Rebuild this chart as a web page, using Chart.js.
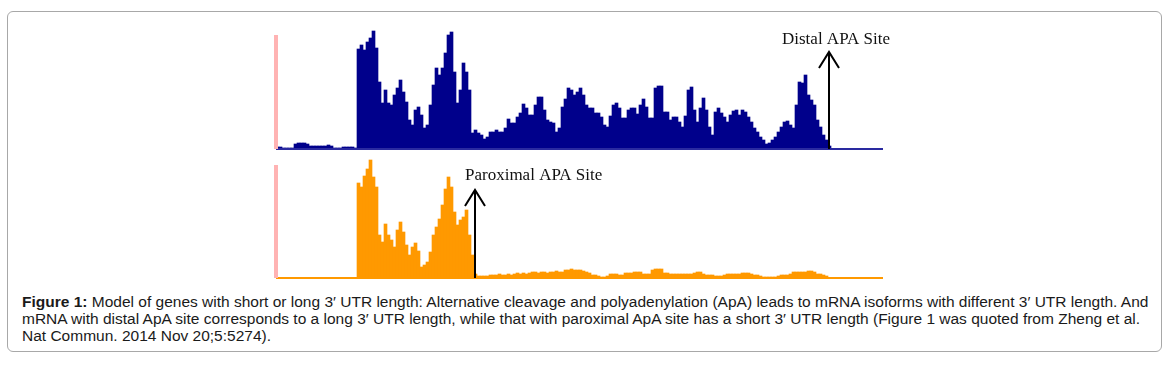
<!DOCTYPE html>
<html lang="en">
<head>
<meta charset="UTF-8" />
<title>Figure 1 - 3' UTR length</title>
<style>
  body { margin: 0; background: #fff; width: 1175px; height: 365px; position: relative; overflow: hidden; }
  .frame { position: absolute; left: 7px; top: 11px; width: 1153px; height: 339px; border: 1px solid #a8a8a8; border-radius: 6px; }
  .track { position: absolute; left: 266px; width: 630px; height: 135px; }
  #topTrack { top: 20px; }
  #bottomTrack { top: 149px; }
  .caption { position: absolute; left: 22px; top: 293px; white-space: nowrap; font: 15.5px "Liberation Sans", Arial, sans-serif; line-height: 17px; color: #1a1a1a; }
</style>
</head>
<body>
<div class="frame"></div>
<div class="track" id="topTrack"><canvas id="distalChart"></canvas></div>
<div class="track" id="bottomTrack"><canvas id="proximalChart"></canvas></div>
<div class="caption">
  <b>Figure 1:</b> Model of genes with short or long 3′ UTR length: Alternative cleavage and polyadenylation (ApA) leads to mRNA isoforms with different 3′ UTR length. And<br>
  mRNA with distal ApA site corresponds to a long 3′ UTR length, while that with paroximal ApA site has a short 3′ UTR length (Figure 1 was quoted from Zheng et al.<br>
  Nat Commun. 2014 Nov 20;5:5274).
</div>

<script src="https://cdn.jsdelivr.net/npm/chart.js"></script>
<script>
  // read coverage per bin (arbitrary read depth), 202 bins along the gene
  const distalCoverage = [
    2, 2, 1, 1, 1, 1, 5, 6, 6, 6, 5, 3, 3, 3, 3, 3, 3, 4, 3, 1, 1, 1, 2, 2, 2, 2, 1,
    100, 104, 99, 107, 111, 118, 101, 67, 46, 59, 46, 44, 54, 61, 69, 57, 47, 29, 24, 39,
    42, 34, 21, 24, 44, 64, 81, 74, 81, 96, 114, 117, 77, 46, 59, 86, 77, 59, 16, 19,
    16, 14, 10, 12, 17, 17, 19, 17, 17, 21, 30, 26, 26, 32, 36, 45, 41, 34, 34, 44,
    52, 52, 39, 29, 27, 26, 17, 21, 42, 50, 61, 59, 54, 57, 61, 54, 44, 41, 41, 36, 36,
    32, 24, 22, 33, 44, 46, 41, 31, 31, 39, 41, 41, 35, 44, 50, 42, 31, 31, 61, 63,
    63, 37, 37, 29, 32, 32, 27, 22, 33, 59, 62, 39, 27, 41, 51, 39, 22, 14, 37, 41, 36, 32, 27,
    34, 38, 39, 34, 39, 37, 32, 27, 21, 17, 12, 9, 5, 6, 9, 12, 17, 22, 27, 28,
    24, 21, 44, 67, 66, 74, 54, 49, 44, 29, 22, 14, 9, 3,
    0, 0, 0, 0, 0, 0, 0, 0, 0, 0, 0, 0, 0, 0, 0, 0, 0
  ];
  const proximalCoverage = [
    0, 0, 0, 0, 0, 0, 0, 0, 0, 0, 0, 0, 0, 0, 0, 0, 0, 0, 0, 0, 0, 0, 0, 0, 0, 0, 0,
    95, 91, 102, 109, 118, 101, 91, 43, 36, 54, 43, 38, 31, 48, 56, 46, 33, 23, 31, 35,
    27, 11, 13, 16, 26, 43, 51, 59, 73, 89, 101, 91, 66, 53, 58, 61, 68, 43, 23, 4,
    2, 2, 2, 2, 3, 3, 3, 4, 3, 3, 4, 3, 4, 5, 4, 5, 4, 5, 6, 6, 5, 6, 6, 5, 6,
    6, 7, 6, 6, 8, 8, 9, 8, 8, 8, 7, 6, 5, 3, 3, 2,
    1, 1, 2, 4, 4, 4, 3, 3, 5, 5, 5, 6, 6, 6, 4, 4, 4, 8, 9, 9, 9, 5, 5, 4, 4,
    4, 4, 4, 4, 4, 4, 5, 6, 6, 4, 3, 3, 3, 2, 2, 2, 3, 4,
    4, 4, 4, 4, 5, 5, 5, 4, 3, 3, 2, 1, 1, 1, 1, 1, 2, 3, 3, 3, 4, 6, 6, 6, 6,
    6, 7, 7, 6, 4, 4, 3, 2, 0,
    0, 0, 0, 0, 0, 0, 0, 0, 0, 0, 0, 0, 0, 0, 0, 0, 0
  ];
  const bins = distalCoverage.map((_, i) => i + 1);

  // APA sites: bin index (0-based), arrow tip depth, label
  const distalSite = { bin: 184, tip: 97, label: "Distal APA Site" };
  const proximalSite = { bin: 66, tip: 88, label: "Paroximal APA Site" };
  const startMarker = [114, 113]; // pink start marker height for each track

  const trackPlugin = {
    id: "track",
    afterDatasetsDraw(chart, args, opts) {
      const { ctx, chartArea: a, scales: { x, y } } = chart;
      ctx.save();
      // baseline
      ctx.fillStyle = opts.baseColor;
      ctx.fillRect(a.left, a.bottom - 1, a.right - a.left + 1, 2);
      // pink start marker
      const mTop = y.getPixelForValue(opts.marker);
      ctx.fillStyle = "#ffb3b3";
      ctx.fillRect(a.left - 2, mTop, 4, a.bottom - mTop);
      // arrow
      const ax = Math.floor(x.getPixelForValue(opts.site.bin));
      const tip = y.getPixelForValue(opts.site.tip);
      ctx.strokeStyle = "#000";
      ctx.lineWidth = 2;
      ctx.beginPath();
      ctx.moveTo(ax, a.bottom);
      ctx.lineTo(ax, tip);
      ctx.moveTo(ax - 10, tip + 16);
      ctx.lineTo(ax, tip);
      ctx.lineTo(ax + 10, tip + 16);
      ctx.stroke();
      // label
      ctx.fillStyle = "#111";
      ctx.font = '17px "Liberation Serif", "Times New Roman", serif';
      ctx.textBaseline = "alphabetic";
      ctx.fillText(opts.site.label, ax + opts.labelDx, tip - opts.labelDy);
      ctx.restore();
    },
  };

  function makeTrack(id, values, color, baseColor, marker, site, labelDx, labelDy) {
    return new Chart(document.getElementById(id), {
      type: "bar",
      data: {
        labels: bins,
        datasets: [
          {
            data: values,
            backgroundColor: color,
            borderWidth: 0,
            barPercentage: 1,
            categoryPercentage: 1,
          },
        ],
      },
      options: {
        responsive: true,
        maintainAspectRatio: false,
        animation: false,
        layout: { padding: { left: 10, right: 14, top: 4, bottom: 6 } },
        scales: {
          x: { display: false },
          y: { display: false, min: 0, max: 125 },
        },
        plugins: {
          legend: { display: false },
          tooltip: { enabled: false },
          track: { baseColor: baseColor, marker: marker, site: site, labelDx: labelDx, labelDy: labelDy },
        },
      },
      plugins: [trackPlugin],
    });
  }

  makeTrack("distalChart", distalCoverage, "#00008b", "#2a2aa0", startMarker[0], distalSite, -47, 8);
  makeTrack("proximalChart", proximalCoverage, "#ff9900", "#ff9900", startMarker[1], proximalSite, -10, 10);
</script>
</body>
</html>
